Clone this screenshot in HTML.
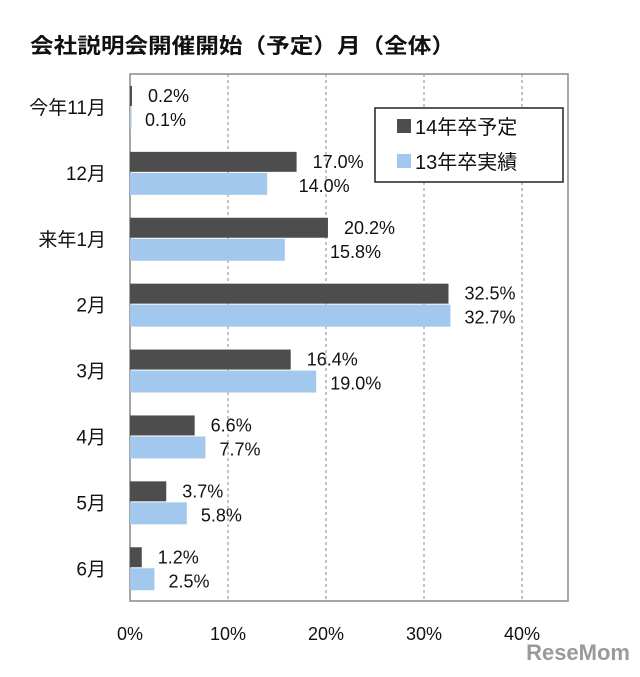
<!DOCTYPE html>
<html><head><meta charset="utf-8"><style>
body{margin:0;background:#fff;}
svg text{font-family:"Liberation Sans","Noto Sans CJK JP",sans-serif;}
</style></head><body>
<svg width="640" height="672" xmlns="http://www.w3.org/2000/svg">
<text x="30" y="53" font-size="21" font-weight="bold" fill="#111" textLength="425" lengthAdjust="spacingAndGlyphs">会社説明会開催開始（予定）月（全体）</text>
<g id="grid"></g>
<rect x="130" y="74" width="438" height="527" fill="none" stroke="#888" stroke-width="1.5"/>
<g id="bars"></g>
<g id="axes"></g>
<g>
<rect x="375" y="108" width="188" height="74" fill="#fff" stroke="#222" stroke-width="1.5"/>
<rect x="397" y="119" width="14" height="14" fill="#4d4d4d"/>
<text x="415" y="134" font-size="20" fill="#111">14年卒予定</text>
<rect x="397" y="154" width="14" height="14" fill="#a3c8ee"/>
<text x="415" y="169" font-size="20" fill="#111">13年卒実績</text>
</g>
<text x="630" y="660" font-size="22" font-weight="bold" fill="#9a9a9a" text-anchor="end">ReseMom</text>
</svg>
<script>
const categories=["今年11月","12月","来年1月","2月","3月","4月","5月","6月"];
const series14=[0.2,17.0,20.2,32.5,16.4,6.6,3.7,1.2];
const series13=[0.1,14.0,15.8,32.7,19.0,7.7,5.8,2.5];
const ticks=[0,10,20,30,40];
const tickLabels=["0%","10%","20%","30%","40%"];
const NS="http://www.w3.org/2000/svg";
const x0=130,pxPer=9.8,plotTop=74,band=65.9;
const xs=v=>x0+v*pxPer;
const yc=i=>plotTop+band*i+band/2;
function mk(t,a,parent){const e=document.createElementNS(NS,t);for(const k in a)e.setAttribute(k,a[k]);document.getElementById(parent).appendChild(e);return e;}
ticks.forEach((t,i)=>{
 if(t>0){const l=mk('line',{x1:xs(t),x2:xs(t),y1:plotTop,y2:601,stroke:'#888','stroke-dasharray':'3,3'},'grid');
 
 }
 const tx=mk('text',{x:xs(t),y:640,'font-size':18,'text-anchor':'middle',fill:'#111'},'axes');
 tx.textContent=tickLabels[i];
 
 
});
categories.forEach((c,i)=>{
 const y=yc(i);
 const lab=mk('text',{x:106,y:y+7,'font-size':19,'text-anchor':'end',fill:'#111'},'axes');
 lab.textContent=c;
 
 
 const b1=mk('rect',{x:x0,y:y-21,width:Math.max(1.5,series14[i]*pxPer),height:20,fill:'#4d4d4d'},'bars');
 
 
 const b2=mk('rect',{x:x0,y:y,width:Math.max(1.5,series13[i]*pxPer),height:22,fill:'#a3c8ee'},'bars');
 
 
 const t1=mk('text',{x:xs(series14[i])+16,y:y-5,'font-size':18,fill:'#111'},'bars');
 t1.textContent=series14[i].toFixed(1)+'%';
 
 
 const t2=mk('text',{x:Math.max(xs(series13[i])+14,xs(series14[i])+2),y:y+19,'font-size':18,fill:'#111'},'bars');
 t2.textContent=series13[i].toFixed(1)+'%';
 
 
});
</script>
</body></html>
